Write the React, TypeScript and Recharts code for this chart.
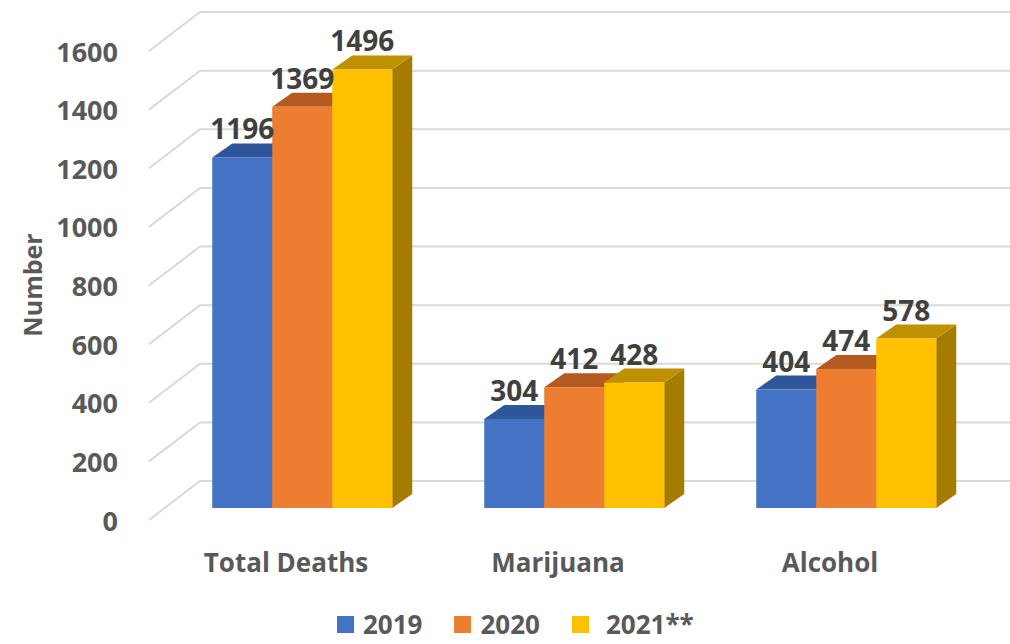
import { BarChart, Bar, XAxis, YAxis, CartesianGrid, Legend, LabelList } from "recharts";

const categories = ["Total Deaths", "Marijuana", "Alcohol"];
const y2019 = [1196, 304, 404];
const y2020 = [1369, 412, 474];
const y2021 = [1496, 428, 578];
const seriesNames = ["2019", "2020", "2021**"];
const yTicks = [0, 200, 400, 600, 800, 1000, 1200, 1400, 1600];

const data = categories.map((name, i) => ({
  name,
  s2019: y2019[i],
  s2020: y2020[i],
  s2021: y2021[i],
}));

const series = [
  { key: "s2019", name: seriesNames[0], front: "#4472C4", top: "#2F569B", side: "#2E5290" },
  { key: "s2020", name: seriesNames[1], front: "#ED7D31", top: "#B45A20", side: "#A9561F" },
  { key: "s2021", name: seriesNames[2], front: "#FFC000", top: "#BF9000", side: "#A67C00" },
];

const FONT = "'Open Sans', 'Liberation Sans', sans-serif";
const DX = 20;
const DY = -14;

function Bar3D(props: any) {
  const { x, y, width, height, front, top, side } = props;
  if (width == null || height == null) return null;
  const r = x + width;
  const b = y + height;
  return (
    <g>
      <polygon points={`${r},${y} ${r + DX},${y + DY} ${r + DX},${b + DY} ${r},${b}`} fill={side} />
      <polygon points={`${x},${y} ${x + DX},${y + DY} ${r + DX},${y + DY} ${r},${y}`} fill={top} />
      <rect x={x} y={y} width={width} height={height} fill={front} />
    </g>
  );
}

function GridLine(props: any) {
  const { x1, y1, x2 } = props;
  return (
    <path
      key={`g-${y1}`}
      d={`M${x1 - 17},${y1 + 12} L${x1 + 34},${y1 - 27} L${x2 + 30},${y1 - 27}`}
      stroke="#D9D9D9"
      strokeWidth={2}
      fill="none"
    />
  );
}

function YTick(props: any) {
  const { x, y, payload } = props;
  return (
    <text x={x - 40} y={y + 12} textAnchor="end" dominantBaseline="central" fontFamily={FONT} fontWeight={700} fontSize={27} fill="#595959">
      {payload.value}
    </text>
  );
}

function XTick(props: any) {
  const { x, y, payload } = props;
  return (
    <text x={x - 16} y={y + 46} textAnchor="middle" dominantBaseline="central" fontFamily={FONT} fontWeight={700} fontSize={26} fill="#595959">
      {payload.value}
    </text>
  );
}

function ValueLabel(props: any) {
  const { x, y, width, value } = props;
  return (
    <text x={x + width / 2} y={y - 29} textAnchor="middle" dominantBaseline="central" fontFamily={FONT} fontWeight={700} fontSize={28} fill="#404040">
      {value}
    </text>
  );
}

function LegendContent() {
  return (
    <div style={{ display: "flex", alignItems: "center", fontFamily: FONT, fontWeight: 700, fontSize: 26, lineHeight: "26px", color: "#595959" }}>
      {series.map((s, i) => (
        <div key={s.key} style={{ display: "flex", alignItems: "center", marginLeft: i === 0 ? 0 : 32 }}>
          <div style={{ width: 17, height: 17, background: s.front, marginRight: i === 2 ? 17 : 9 }} />
          <span>{s.name}</span>
        </div>
      ))}
    </div>
  );
}

export default function App() {
  return (
    <div style={{ position: "absolute", left: 0, top: 0, background: "#fff" }}>
      <BarChart
        width={1010}
        height={644}
        data={data}
        margin={{ top: 39, right: 28, bottom: 76, left: 0 }}
        barCategoryGap="17%"
        barGap={0}
      >
        <CartesianGrid vertical={false} horizontal={(p: any) => <GridLine {...p} />} />
        <XAxis dataKey="name" axisLine={false} tickLine={false} height={60} tick={<XTick />} interval={0} />
        <YAxis
          domain={[0, 1600]}
          ticks={yTicks}
          width={166}
          axisLine={false}
          tickLine={false}
          tick={<YTick />}
          label={{
            content: () => (
              <text
                transform="translate(32,285) rotate(-90)"
                textAnchor="middle"
                dominantBaseline="central"
                fontFamily={FONT}
                fontWeight={700}
                fontSize={25}
                fill="#595959"
              >
                Number
              </text>
            ),
          }}
        />
        <Legend
          layout="vertical"
          verticalAlign="middle"
          align="center"
          content={<LegendContent />}
          wrapperStyle={{ position: "absolute", top: 611, left: 337, width: 400 }}
        />
        {series.map((s) => (
          <Bar
            key={s.key}
            dataKey={s.key}
            name={s.name}
            fill={s.front}
            isAnimationActive={false}
            shape={(p: any) => <Bar3D {...p} front={s.front} top={s.top} side={s.side} />}
          >
            <LabelList dataKey={s.key} content={<ValueLabel />} />
          </Bar>
        ))}
      </BarChart>
    </div>
  );
}
